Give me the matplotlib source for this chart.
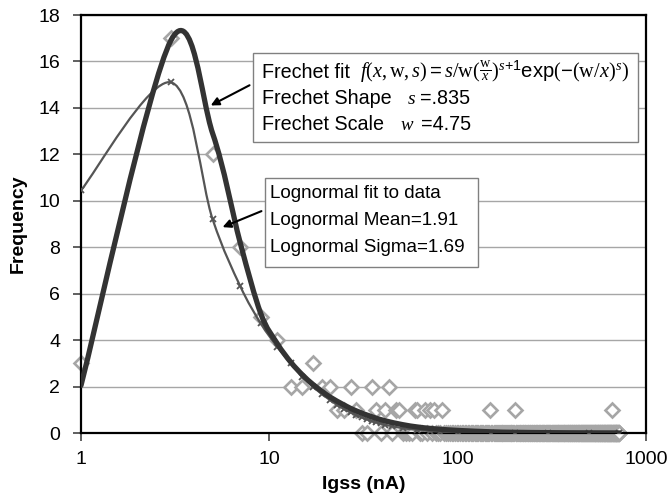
import numpy as np
import matplotlib
matplotlib.use("Agg")
import matplotlib.pyplot as plt
from matplotlib.path import Path
from matplotlib.patches import PathPatch, Rectangle

plt.rcParams['font.family'] = ['Liberation Sans', 'DejaVu Sans']
plt.rcParams['mathtext.fontset'] = 'custom'
plt.rcParams['mathtext.rm'] = 'Liberation Serif'
plt.rcParams['mathtext.it'] = 'Liberation Serif:italic'
plt.rcParams['mathtext.sf'] = 'Liberation Sans'

# ---- data ----
# histogram bin centres (odd nA values); bins not listed below have count 0
bin_centers = np.arange(1, 722, 2)
nonzero_bins = [1, 3, 5, 7, 9, 11, 13, 15, 17, 19, 21, 23, 25, 27, 29, 35, 37, 41,
                43, 47, 49, 59, 61, 67, 71, 75, 83, 149, 201, 661]
nonzero_counts = [3, 17, 12, 8, 5, 4, 2, 2, 3, 2, 2, 1, 1, 2, 1, 2, 1, 1,
                  2, 1, 1, 1, 1, 1, 1, 1, 1, 1, 1, 1]

frechet_x = [1, 3, 5, 7, 9, 11, 13, 15, 17, 19, 21, 25, 29, 35, 41, 51, 61, 71,
             81, 101, 151, 201, 301, 501, 721]
frechet_y = [2.05, 16.9, 12.9, 8.2, 5.15, 3.86, 3.05, 2.5, 2.1, 1.8, 1.55, 1.2,
             0.95, 0.7, 0.53, 0.36, 0.26, 0.2, 0.16, 0.11, 0.05, 0.03, 0.015,
             0.006, 0.003]

lognorm_x = [1, 3, 5, 7, 9, 11, 13, 15, 17, 19, 21, 23, 25, 27, 29, 31, 33, 35,
             37, 39, 41, 45, 51, 61, 71, 81, 101, 151, 201, 301, 501, 721]
lognorm_y = [10.45, 15.1, 9.2, 6.33, 4.72, 3.72, 3.0, 2.42, 2.0, 1.68, 1.42,
             1.2, 1.03, 0.89, 0.77, 0.67, 0.59, 0.52, 0.46, 0.41, 0.36, 0.29,
             0.21, 0.13, 0.09, 0.06, 0.03, 0.01, 0.005, 0.002, 0.0, 0.0]

y_ticks = [0, 2, 4, 6, 8, 10, 12, 14, 16, 18]
x_ticks = [1, 10, 100, 1000]
x_ticklabels = ['1', '10', '100', '1000']

counts_map = dict(zip(nonzero_bins, nonzero_counts))
hist_counts = [counts_map.get(int(b), 0) for b in bin_centers]


def smooth_path(xs, ys):
    """Excel-like smoothed line: cubic Bezier through the points (log-x space)."""
    pts = np.column_stack([np.log10(np.asarray(xs, float)), np.asarray(ys, float)])
    n = len(pts)
    verts = [pts[0]]
    codes = [Path.MOVETO]
    for i in range(n - 1):
        p0 = pts[i - 1] if i > 0 else pts[i]
        p1 = pts[i]
        p2 = pts[i + 1]
        p3 = pts[i + 2] if i + 2 < n else pts[i + 1]
        c1 = p1 + (p2 - p0) / 6.0
        c2 = p2 - (p3 - p1) / 6.0
        verts += [c1, c2, p2]
        codes += [Path.CURVE4] * 3
    verts = np.array(verts)
    verts[:, 0] = 10 ** verts[:, 0]
    return Path(verts, codes)


fig = plt.figure(figsize=(6.69, 4.97), dpi=100)
ax = fig.add_axes([81 / 669, (497 - 433) / 497, 565 / 669, 418 / 497])
ax.set_xscale('log')
ax.set_xlim(1, 1000)
ax.set_ylim(0, 18)

ax.set_yticks(y_ticks)
ax.set_xticks(x_ticks)
ax.set_xticklabels(x_ticklabels)
ax.minorticks_off()
ax.grid(axis='y', color='#a6a6a6', lw=1.0)
ax.set_axisbelow(True)

for s in ax.spines.values():
    s.set_linewidth(1.6)
    s.set_color('black')
ax.tick_params(axis='both', labelsize=14, direction='out', length=6, width=1.2,
               color='#444444')
ax.tick_params(axis='x', pad=7)
ax.tick_params(axis='y', pad=9)

# data diamonds
ax.plot(bin_centers, hist_counts, linestyle='none', marker='D', markersize=7,
        markerfacecolor='white', markeredgecolor='#a6a6a6', markeredgewidth=1.9,
        zorder=2, clip_on=False)

# lognormal fit line with markers
ax.add_patch(PathPatch(smooth_path(lognorm_x, lognorm_y), fill=False,
                       edgecolor='#555555', lw=1.6, zorder=3))
ax.plot(lognorm_x, lognorm_y, linestyle='none', marker='x', markersize=4,
        color='#555555', markeredgewidth=1.3, zorder=3)

# Frechet fit line
ax.add_patch(PathPatch(smooth_path(frechet_x, frechet_y), fill=False,
                       edgecolor='#333333', lw=3.8, zorder=4,
                       capstyle='round', joinstyle='round'))

ax.set_xlabel('Igss (nA)', fontsize=14, fontweight='bold', labelpad=6)
ax.set_ylabel('Frequency', fontsize=14, fontweight='bold', labelpad=8)

# annotation boxes
ax.add_patch(Rectangle((0.304, 0.695), 0.682, 0.213, transform=ax.transAxes,
                       facecolor='white', edgecolor='#808080', lw=1.0, zorder=6))
ax.add_patch(Rectangle((0.326, 0.397), 0.377, 0.212, transform=ax.transAxes,
                       facecolor='white', edgecolor='#808080', lw=1.0, zorder=6))

fs1 = 14.2
ax.text(0.320, 0.850, 'Frechet fit', transform=ax.transAxes, fontsize=fs1,
        va='baseline', zorder=7)
ax.text(0.494, 0.850,
        r'$f(x,\mathrm{w},s)\mathsf{=}s/\mathrm{w}(\frac{\mathrm{w}}{x})^{s\mathsf{+1}}\mathsf{exp}(\mathsf{-}(\mathrm{w}/x)^{s})$',
        transform=ax.transAxes, fontsize=14.6, va='baseline', zorder=7)
ax.text(0.320, 0.787, 'Frechet Shape', transform=ax.transAxes,
        fontsize=fs1, va='baseline', zorder=7)
ax.text(0.577, 0.787, r'$s$', transform=ax.transAxes,
        fontsize=14, va='baseline', zorder=7)
ax.text(0.600, 0.787, '=.835', transform=ax.transAxes,
        fontsize=fs1, va='baseline', zorder=7)
ax.text(0.320, 0.725, 'Frechet Scale', transform=ax.transAxes,
        fontsize=fs1, va='baseline', zorder=7)
ax.text(0.564, 0.725, r'$w$', transform=ax.transAxes,
        fontsize=13.5, va='baseline', zorder=7)
ax.text(0.601, 0.725, '=4.75', transform=ax.transAxes,
        fontsize=fs1, va='baseline', zorder=7)

fs2 = 13.6
ax.text(0.3345, 0.562, 'Lognormal fit to data', transform=ax.transAxes,
        fontsize=fs2, va='baseline', zorder=7)
ax.text(0.3345, 0.498, 'Lognormal Mean=1.91', transform=ax.transAxes,
        fontsize=fs2, va='baseline', zorder=7)
ax.text(0.3345, 0.433, 'Lognormal Sigma=1.69', transform=ax.transAxes,
        fontsize=fs2, va='baseline', zorder=7)

# arrows
arrow_kw = dict(arrowstyle='-|>', color='black', lw=1.5, mutation_scale=12)
ax.annotate('', xy=(4.74, 14.05), xytext=(8.09, 15.03), arrowprops=arrow_kw,
            zorder=8)
ax.annotate('', xy=(5.47, 8.82), xytext=(9.37, 9.6), arrowprops=arrow_kw,
            zorder=8)

fig.savefig('out.png', dpi=100)
